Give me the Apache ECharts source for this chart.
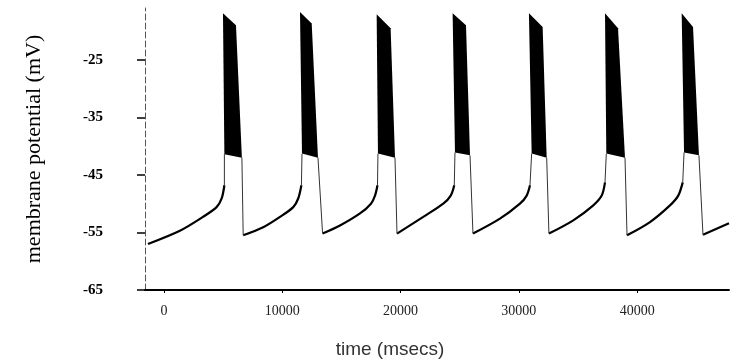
<!DOCTYPE html>
<html>
<head>
<meta charset="utf-8">
<script src="https://cdn.jsdelivr.net/npm/echarts@6/dist/echarts.min.js"></script>
<style>
  html, body { margin: 0; background: #fff; }
  #chart { width: 731px; height: 363px; }
</style>
</head>
<body>
<div id="chart"></div>
<script>
var yTicks = [-65, -55, -45, -35, -25];
var xTicks = [0, 10000, 20000, 30000, 40000];

// slow ramps between bursts, [time ms, mV]
var ramp0 = [[-1350, -57.0], [1350, -54.7], [3300, -52.3], [4450, -50.6], [4880, -49.1], [5110, -46.8]];
var ramp1 = [[6700, -55.5], [8390, -54.1], [9810, -52.3], [10930, -50.6], [11350, -49.1], [11620, -46.8]];
var ramp2 = [[13410, -55.2], [14880, -53.8], [16570, -51.7], [17500, -50.0], [17840, -48.6], [18050, -46.8]];
var ramp3 = [[19700, -55.2], [21920, -52.3], [23610, -50.0], [24240, -48.6], [24540, -46.8]];
var ramp4 = [[26120, -55.2], [28400, -52.6], [30090, -50.0], [30660, -48.6], [30940, -46.8]];
var ramp5 = [[32540, -55.2], [34600, -52.9], [36290, -50.3], [37000, -48.6], [37280, -46.3]];
var ramp6 = [[39140, -55.5], [41080, -53.2], [42770, -50.3], [43470, -48.6], [43850, -46.3]];
var ramp7 = [[45560, -55.4], [47760, -53.4]];

// spike bursts drawn as their envelope
var burstStartTop = [4990, 11500, 17980, 24400, 30850, 37280, 43760];
var burstStartLow = [5110, 11670, 18090, 24600, 31080, 37390, 43960];
var burstPeakEnd  = [6090, 12490, 19160, 25530, 32010, 38380, 44720];
var burstEnd      = [6590, 13020, 19530, 25870, 32350, 38970, 45220];
var peakStart    = [-16.9, -16.7, -17.1, -16.9, -16.9, -16.9, -16.9];
var peakEnd      = [-19.0, -18.7, -19.5, -19.0, -19.3, -19.5, -19.3];
var plateauStart = [-41.4, -41.3, -41.3, -41.1, -41.3, -41.3, -41.1];
var plateauEnd   = [-42.0, -42.0, -42.0, -41.6, -42.0, -42.0, -41.6];

var ramps = [ramp0, ramp1, ramp2, ramp3, ramp4, ramp5, ramp6, ramp7];

var chart = echarts.init(document.getElementById("chart"));

var series = [];

ramps.forEach(function (r) {
  series.push({
    type: "line",
    data: r,
    smooth: 0.3,
    symbol: "none",
    lineStyle: { color: "#000", width: 2.2 },
    z: 2
  });
});

// thin rising / falling edges around each burst
burstEnd.forEach(function (_, i) {
  var up = ramps[i][ramps[i].length - 1];
  series.push({
    type: "line",
    data: [up, [burstStartLow[i], plateauStart[i]]],
    symbol: "none",
    lineStyle: { color: "#333", width: 1 },
    z: 2
  });
  series.push({
    type: "line",
    data: [[burstEnd[i], plateauEnd[i]], ramps[i + 1][0]],
    symbol: "none",
    lineStyle: { color: "#333", width: 1 },
    z: 2
  });
});

var burstRows = burstEnd.map(function (_, i) {
  return [burstStartTop[i], burstPeakEnd[i], burstEnd[i], burstStartLow[i],
          peakStart[i], peakEnd[i], plateauEnd[i], plateauStart[i]];
});

series.push({
  type: "custom",
  data: burstRows,
  encode: { x: [0, 1, 2, 3], y: [4, 5, 6, 7] },
  renderItem: function (params, api) {
    var pts = [
      api.coord([api.value(0), api.value(4)]),
      api.coord([api.value(1), api.value(5)]),
      api.coord([api.value(2), api.value(6)]),
      api.coord([api.value(3), api.value(7)])
    ];
    return { type: "polygon", shape: { points: pts }, style: { fill: "#000" } };
  },
  z: 3
});

var option = {
  animation: false,
  grid: { left: 145, right: 2, top: 8, bottom: 73, outerBoundsMode: "none" },
  xAxis: {
    type: "value",
    min: -1600,
    max: 47760,
    name: "time (msecs)",
    nameLocation: "middle",
    nameGap: 50,
    nameTextStyle: {
      fontFamily: "Liberation Sans",
      fontSize: 19,
      color: "#333",
      padding: [0, 94, 0, 0]
    },
    axisLine: { onZero: false, lineStyle: { color: "#000", width: 2 } },
    axisTick: { customValues: xTicks, length: 3, lineStyle: { color: "#000" } },
    axisLabel: {
      customValues: xTicks,
      margin: 14,
      fontFamily: "Liberation Serif",
      fontSize: 14,
      color: "#222",
      formatter: function (v) { return String(v); }
    },
    splitLine: { show: false }
  },
  yAxis: {
    type: "value",
    min: -65,
    max: -16,
    name: "membrane potential (mV)",
    nameLocation: "middle",
    nameGap: 100,
    nameTextStyle: {
      fontFamily: "Liberation Serif",
      fontSize: 22,
      color: "#000"
    },
    axisLine: { onZero: false, lineStyle: { color: "#555", width: 1, type: [6, 3] } },
    axisTick: { customValues: yTicks, length: 8, lineStyle: { color: "#000", width: 1.5 } },
    axisLabel: {
      customValues: yTicks,
      margin: 42,
      fontFamily: "Liberation Serif",
      fontWeight: "bold",
      fontSize: 15,
      color: "#000"
    },
    splitLine: { show: false }
  },
  series: series
};

chart.setOption(option);
</script>
</body>
</html>
